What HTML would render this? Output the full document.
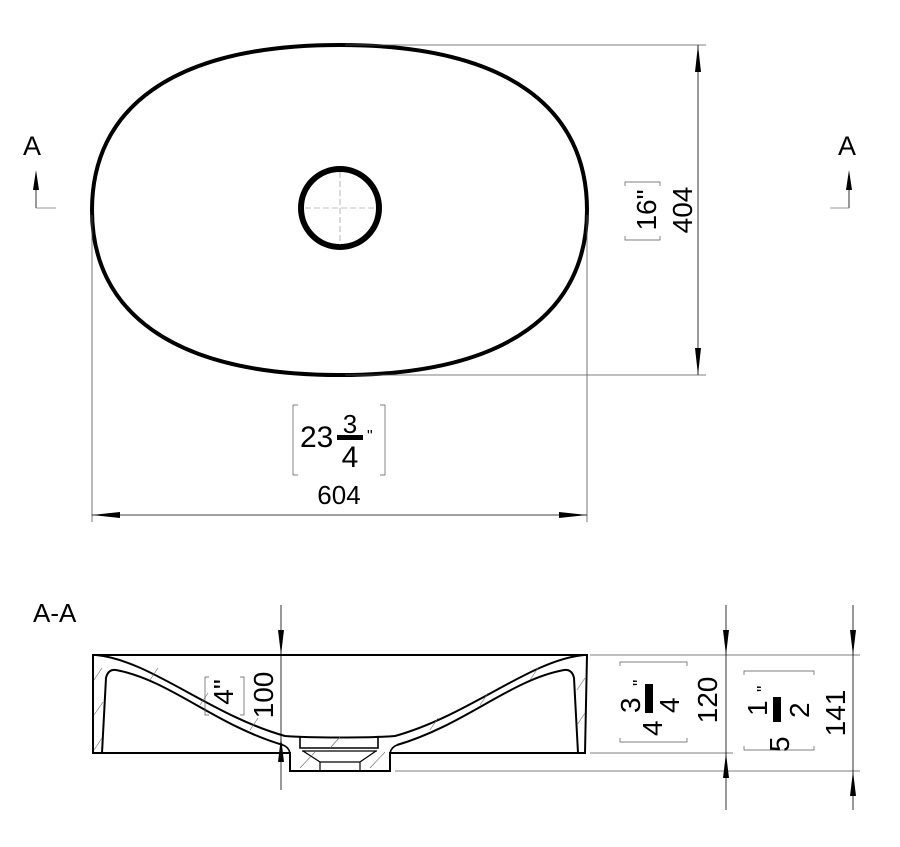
<!DOCTYPE html>
<html><head><meta charset="utf-8"><style>
html,body{margin:0;padding:0;background:#fff;}
svg{display:block;}
text{font-family:"Liberation Sans","DejaVu Sans",sans-serif;fill:#000;}
</style></head><body>
<svg width="900" height="847" viewBox="0 0 900 847" xmlns="http://www.w3.org/2000/svg">
<g stroke="#000" fill="none">
<path d="M340,45 C510,45 587,110 587,210 C587,310 510,375 340,375 C170,375 92,310 92,210 C92,110 170,45 340,45 Z" stroke-width="4"/>
<circle cx="340" cy="208" r="39" stroke-width="6"/>
<line x1="340" y1="172" x2="340" y2="245" stroke-width="0.6" stroke-dasharray="6,3" stroke="#888"/>
<line x1="305" y1="208" x2="376" y2="208" stroke-width="0.6" stroke-dasharray="6,3" stroke="#888"/>

<line x1="345" y1="45" x2="706" y2="45" stroke-width="0.8" stroke="#555"/>
<line x1="345" y1="375" x2="706" y2="375" stroke-width="0.8" stroke="#555"/>
<line x1="92" y1="215" x2="92" y2="522" stroke-width="0.8" stroke="#555"/>
<line x1="587" y1="215" x2="587" y2="522" stroke-width="0.8" stroke="#555"/>
<line x1="698" y1="45" x2="698" y2="375" stroke-width="0.8"/>
<path d="M698,45 L695,72 L701,72 Z M698,375 L695,348 L701,348 Z" fill="#000" stroke="none"/>
<line x1="92" y1="515" x2="587" y2="515" stroke-width="0.8"/>
<path d="M92,515 L120,512 L120,518 Z M587,515 L559,512 L559,518 Z" fill="#000" stroke="none"/>

<path d="M298,405 H293 V475 H298 M380,405 H385 V475 H380" stroke-width="0.7" stroke="#555"/>
<path d="M625,186 V182 H660 V186 M625,236 V240 H660 V236" stroke-width="0.7" stroke="#555"/>

<line x1="36" y1="180" x2="36" y2="208" stroke-width="0.8"/>
<line x1="36" y1="208" x2="56" y2="208" stroke-width="0.8" stroke="#777"/>
<path d="M36,170 L33,190 L39,190 Z" fill="#000" stroke="none"/>
<line x1="849" y1="180" x2="849" y2="208" stroke-width="0.8"/>
<line x1="830" y1="208" x2="849" y2="208" stroke-width="0.8" stroke="#777"/>
<path d="M849,170 L846,190 L852,190 Z" fill="#000" stroke="none"/>

<path d="M93,655 H587 L585,753 H390 V771 H290 V753 H93 Z" stroke-width="2"/>
<path d="M96,655 C150,660 210,715 285,736 C310,738 370,738 395,736 C470,715 530,660 584,655" stroke-width="2"/>
<path d="M102,753 L106,678 Q108,669 116,670 C170,680 215,725 283,745" stroke-width="2"/>
<path d="M578,753 L574,678 Q572,669 564,670 C510,680 465,725 397,745" stroke-width="2"/>
<path d="M283,745 Q290,748 290,755 M397,745 Q390,748 390,755" stroke-width="1.6"/>
<path d="M300,737 V748 H378 V737" stroke-width="1.6"/>
<line x1="302" y1="751" x2="377" y2="751" stroke-width="1.2"/>
<path d="M303,751 L320,762 V771 M376,751 L360,762 V771 M320,762 H360" stroke-width="1.2"/>
<g stroke-width="0.6" stroke="#666">
<line x1="94" y1="680" x2="102" y2="668"/><line x1="94" y1="715" x2="103" y2="702"/><line x1="94" y1="750" x2="102" y2="738"/>
<line x1="577" y1="690" x2="585" y2="678"/><line x1="577" y1="725" x2="585" y2="713"/>
<line x1="150" y1="680" x2="158" y2="668"/><line x1="200" y1="705" x2="208" y2="693"/><line x1="250" y1="730" x2="258" y2="718"/>
<line x1="430" y1="730" x2="438" y2="718"/><line x1="480" y1="705" x2="488" y2="693"/><line x1="530" y1="680" x2="538" y2="668"/>
<line x1="300" y1="768" x2="315" y2="752"/><line x1="370" y1="768" x2="385" y2="752"/><line x1="330" y1="748" x2="340" y2="737"/>
</g>

<line x1="281" y1="605" x2="281" y2="790" stroke-width="0.8"/>
<path d="M281,655 L278,630 L284,630 Z M281,737 L278,762 L284,762 Z" fill="#000" stroke="none"/>
<line x1="590" y1="655" x2="860" y2="655" stroke-width="0.8" stroke="#555"/>
<line x1="590" y1="753" x2="733" y2="753" stroke-width="0.8" stroke="#555"/>
<line x1="395" y1="771" x2="860" y2="771" stroke-width="0.8" stroke="#555"/>
<line x1="726" y1="605" x2="726" y2="810" stroke-width="0.8"/>
<path d="M726,655 L723,630 L729,630 Z M726,753 L723,778 L729,778 Z" fill="#000" stroke="none"/>
<line x1="853" y1="605" x2="853" y2="810" stroke-width="0.8"/>
<path d="M853,655 L850,630 L856,630 Z M853,771 L850,796 L856,796 Z" fill="#000" stroke="none"/>
<path d="M209,677 H205 V715 H209 M240,677 H244 V715 H240" stroke-width="0.7" stroke="#555"/>
<path d="M620,666 V662 H687 V666 M620,738 V742 H687 V738" stroke-width="0.7" stroke="#555"/>
<path d="M744,675 V671 H814 V675 M744,746 V750 H814 V746" stroke-width="0.7" stroke="#555"/>
</g>

<text x="23" y="155" font-size="27">A</text>
<text x="838" y="155" font-size="27">A</text>
<text x="33" y="622" font-size="26">A-A</text>
<text x="339" y="504" font-size="26" text-anchor="middle">604</text>
<text x="300" y="447" font-size="30">23</text>
<text x="350" y="433" font-size="26" text-anchor="middle">3</text>
<rect x="337" y="435" width="26" height="5" fill="#000"/>
<text x="350" y="467" font-size="30" text-anchor="middle">4</text>
<text x="367" y="441" font-size="16">"</text>
<text transform="translate(692,210) rotate(-90)" font-size="28" text-anchor="middle">404</text>
<text transform="translate(656,210) rotate(-90)" font-size="28" text-anchor="middle">16"</text>
<text transform="translate(273,695) rotate(-90)" font-size="28" text-anchor="middle">100</text>
<text transform="translate(233,692) rotate(-90)" font-size="28" text-anchor="middle">4"</text>
<text transform="translate(717,700) rotate(-90)" font-size="28" text-anchor="middle">120</text>
<text transform="translate(845,713) rotate(-90)" font-size="28" text-anchor="middle">141</text>

<text transform="translate(662,736) rotate(-90)" font-size="28">4</text>
<text transform="translate(640,713) rotate(-90)" font-size="28">3</text>
<rect x="645" y="684" width="8" height="29" fill="#000"/>
<text transform="translate(679,713) rotate(-90)" font-size="28">4</text>
<text transform="translate(646,686) rotate(-90)" font-size="18">"</text>

<text transform="translate(789,752) rotate(-90)" font-size="28">5</text>
<text transform="translate(767,716) rotate(-90)" font-size="28">1</text>
<rect x="773" y="697" width="8" height="25" fill="#000"/>
<text transform="translate(809,718) rotate(-90)" font-size="28">2</text>
<text transform="translate(770,692) rotate(-90)" font-size="18">"</text>
</svg>
</body></html>
